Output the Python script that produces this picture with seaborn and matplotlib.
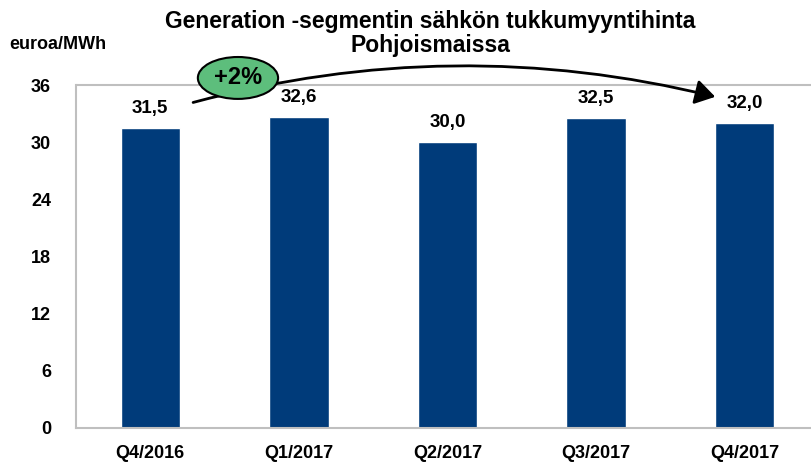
import matplotlib
matplotlib.use("Agg")
import matplotlib.pyplot as plt
from matplotlib.patches import Ellipse, FancyArrowPatch
import pandas as pd
import seaborn as sns

quarters = ["Q4/2016", "Q1/2017", "Q2/2017", "Q3/2017", "Q4/2017"]
prices = [31.5, 32.6, 30.0, 32.5, 32.0]
yticks = [0, 6, 12, 18, 24, 30, 36]
change_label = "+2%"

BAR_COLOR = "#003B7A"
AXIS_GRAY = "#BFBFBF"

sns.set_theme(style="white")
plt.rcParams["font.family"] = ["Liberation Sans Narrow", "Liberation Sans", "DejaVu Sans"]
plt.rcParams["text.color"] = "black"
plt.rcParams["xtick.labelcolor"] = "black"
plt.rcParams["ytick.labelcolor"] = "black"

df = pd.DataFrame({"quarter": quarters, "price": prices})

fig = plt.figure(figsize=(8.12, 4.65), dpi=100)
ax = fig.add_axes([0.0936, 0.0796, 0.915, 0.7374])
sns.barplot(data=df, x="quarter", y="price", color=BAR_COLOR, width=0.4,
            saturation=1, ax=ax)

ax.set_ylim(0, 36)
ax.set_xlim(-0.5, 4.5)
ax.set_yticks(yticks)
ax.set_yticklabels([str(t) for t in yticks], fontsize=13, fontweight="bold")
ax.set_xticks(range(len(quarters)))
ax.set_xticklabels(quarters, fontsize=13, fontweight="bold")
ax.set_xlabel("")
ax.set_ylabel("")

# category boundary ticks on x axis
ax.set_xticks([i - 0.5 for i in range(len(quarters) + 1)], minor=True)
ax.tick_params(axis="x", which="major", length=0, pad=12)
ax.tick_params(axis="x", which="minor", length=6, color=AXIS_GRAY, width=1.2, direction="out")
ax.tick_params(axis="y", length=6, color=AXIS_GRAY, width=1.2, direction="out", pad=12)

for side in ["top", "right"]:
    ax.spines[side].set_visible(False)
for side in ["left", "bottom"]:
    ax.spines[side].set_color(AXIS_GRAY)
    ax.spines[side].set_linewidth(1.5)
ax.axhline(36, color=AXIS_GRAY, lw=1.5, clip_on=False)

for i, v in enumerate(prices):
    ax.annotate(f"{v:.1f}".replace(".", ","), (i, v), xytext=(0, 8),
                textcoords="offset points", ha="center", va="bottom",
                fontsize=13.5, fontweight="bold")

# curved arrow from first to last bar
arrow = FancyArrowPatch((0.27, 34.1), (3.82, 34.7),
                        connectionstyle="arc3,rad=-0.13",
                        arrowstyle="-|>,head_length=8,head_width=5",
                        color="black", lw=2, mutation_scale=1.5,
                        clip_on=False, zorder=5)
ax.add_patch(arrow)

ell = Ellipse((0.59, 36.75), 0.54, 4.4, facecolor="#5DBE7C", edgecolor="black",
              lw=1.5, clip_on=False, zorder=6)
ax.add_patch(ell)
ax.text(0.59, 36.75, change_label, ha="center", va="center", fontsize=17,
        fontweight="bold", zorder=7)

fig.text(0.53, 0.928, "Generation -segmentin sähkön tukkumyyntihinta\nPohjoismaissa",
         ha="center", va="center", fontsize=16.5, fontweight="bold", linespacing=1.05)
fig.text(0.012, 0.905, "euroa/MWh", ha="left", va="center", fontsize=13,
         fontweight="bold")

fig.savefig("out.png", dpi=100)
